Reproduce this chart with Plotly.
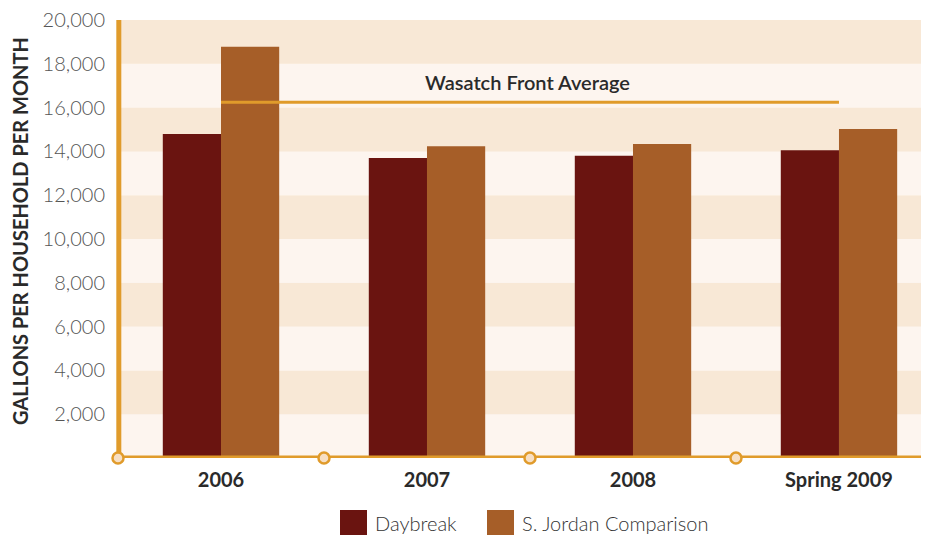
import plotly.graph_objects as go

categories = ["2006", "2007", "2008", "Spring 2009"]
daybreak = [14800, 13700, 13800, 14050]
s_jordan = [18780, 14230, 14340, 15020]
wasatch_avg = 16250
y_ticks = [2000, 4000, 6000, 8000, 10000, 12000, 14000, 16000, 18000, 20000]
y_tick_labels = ["2,000", "4,000", "6,000", "8,000", "10,000", "12,000", "14,000", "16,000", "18,000", "20,000"]

C_DAY = "#6A1410"
C_SJ = "#A65E28"
C_AX = "#E09B2B"
BAND_DARK = "#F8E8D6"
BAND_LIGHT = "#FDF5EF"
FONT = "Lato"
X_RANGE = [-0.5, 3.437]

fig = go.Figure()
fig.add_trace(go.Bar(x=categories, y=daybreak, name="Daybreak", marker=dict(color=C_DAY, line=dict(width=0))))
fig.add_trace(go.Bar(x=categories, y=s_jordan, name="S. Jordan Comparison", marker=dict(color=C_SJ, line=dict(width=0))))

# Wasatch Front Average line
fig.add_trace(go.Scatter(x=[categories[0], categories[-1]], y=[wasatch_avg, wasatch_avg], mode="lines",
                         line=dict(color=C_AX, width=3), showlegend=False, hoverinfo="skip"))

shapes = []
# alternating bands
for i in range(10):
    lo = i * 2000
    shapes.append(dict(type="rect", xref="paper", yref="y", x0=0, x1=1, y0=lo, y1=lo + 2000,
                       fillcolor=BAND_DARK if i % 2 == 1 else BAND_LIGHT, line=dict(width=0), layer="below"))
# axis lines
shapes.append(dict(type="line", xref="paper", yref="paper", x0=0.001, x1=0.001, y0=0, y1=1,
                   line=dict(color=C_AX, width=5), layer="below"))
shapes.append(dict(type="line", xref="paper", yref="y", x0=0, x1=1, y0=0, y1=0,
                   line=dict(color=C_AX, width=5), layer="above"))
# boundary circles between categories on the x axis
for k in range(len(categories)):
    b = k - 0.5
    px = (b - X_RANGE[0]) / (X_RANGE[1] - X_RANGE[0])
    shapes.append(dict(type="circle", xref="paper", yref="paper", xsizemode="pixel", ysizemode="pixel",
                       xanchor=px, yanchor=0, x0=-5.5, x1=5.5, y0=-5.5, y1=5.5,
                       fillcolor="#F7DFC4", line=dict(color=C_AX, width=2.5), layer="above"))

# legend (manual), positions given in screen pixels
def px_x(px):
    return (px - 118) / 811
def px_y(py):
    return (458 - py) / 438

shapes.append(dict(type="rect", xref="paper", yref="paper", x0=px_x(340), x1=px_x(367), y0=px_y(540), y1=px_y(510),
                   fillcolor=C_DAY, line=dict(width=0)))
shapes.append(dict(type="rect", xref="paper", yref="paper", x0=px_x(487), x1=px_x(514), y0=px_y(540), y1=px_y(510),
                   fillcolor=C_SJ, line=dict(width=0)))

annotations = [
    dict(text="Daybreak", xref="paper", yref="paper", x=px_x(373), y=px_y(523), xanchor="left", yanchor="middle",
         showarrow=False, font=dict(family=FONT, size=20, color="#333333", weight=300)),
    dict(text="S. Jordan Comparison", xref="paper", yref="paper", x=px_x(520), y=px_y(523), xanchor="left",
         yanchor="middle", showarrow=False, font=dict(family=FONT, size=20, color="#333333", weight=300)),
    dict(text="Wasatch Front Average", xref="x", yref="y", x=1.49, y=wasatch_avg, yshift=20, xanchor="center",
         yanchor="middle", showarrow=False, font=dict(family=FONT, size=20, color="#2a2a2a", weight=600)),
    dict(text="GALLONS PER HOUSEHOLD PER MONTH", xref="paper", yref="paper", x=px_x(20), y=px_y(231),
         xanchor="center", yanchor="middle", textangle=-90, showarrow=False,
         font=dict(family=FONT, size=20, color="#2a2a2a", weight="bold")),
]

# page body has an 8px margin: figure is 8px smaller and margins offset so the plot lands at screen 118..929, 20..458
fig.update_layout(
    width=921, height=527,
    margin=dict(l=110, r=0, t=12, b=77),
    paper_bgcolor="white", plot_bgcolor=BAND_LIGHT,
    barmode="group", bargap=0.435, bargroupgap=0,
    showlegend=False,
    shapes=shapes, annotations=annotations,
    font=dict(family=FONT),
)
fig.update_xaxes(range=X_RANGE, showgrid=False, zeroline=False, showline=False, ticks="",
                 tickfont=dict(family=FONT, size=20, color="#2a2a2a", weight="bold"), ticklabelstandoff=8)
fig.update_yaxes(range=[0, 20000], tickvals=y_ticks, ticktext=y_tick_labels, showgrid=False, zeroline=False,
                 showline=False, ticks="", tickfont=dict(family=FONT, size=20, color="#555555", weight=300),
                 ticklabelstandoff=12, ticklabeloverflow="allow")

fig.write_html("out.html")
